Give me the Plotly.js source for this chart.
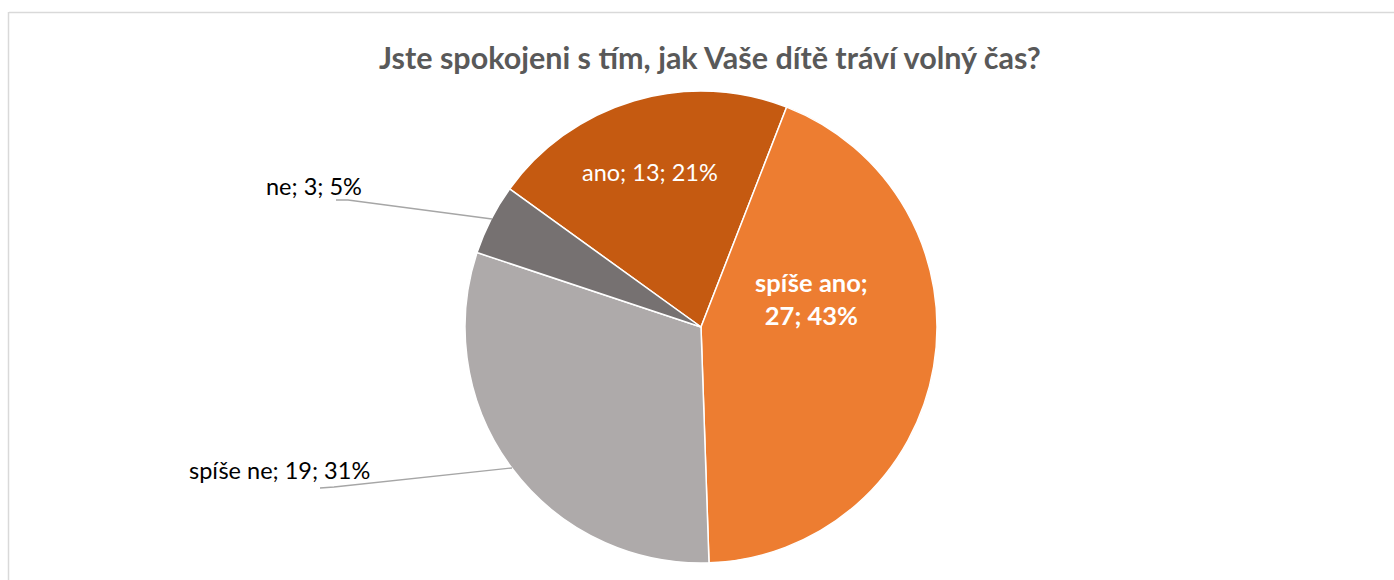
<!DOCTYPE html>
<html>
<head>
<meta charset="utf-8">
<script src="https://cdn.plot.ly/plotly-3.0.1.min.js"></script>
<style>
html,body{margin:0;padding:0;background:#fff;}
#chart{width:1394px;height:580px;}
</style>
</head>
<body>
<div id="chart"></div>
<script>
const categories = ["ano", "spíše ano", "spíše ne", "ne"];
const counts = [13, 27, 19, 3];
const percentLabels = ["21%", "43%", "31%", "5%"];
const colors = ["#C55A11", "#ED7D31", "#AEAAAA", "#767171"];
const chartTitle = "Jste spokojeni s tím, jak Vaše dítě tráví volný čas?";

const W = 1394, H = 580;
const FONT = "Lato, 'Open Sans', sans-serif";

const labelText = categories.map((c, i) => c + "; " + counts[i] + "; " + percentLabels[i]);

const px = (x) => x / W;
const py = (y) => 1 - y / H;

const trace = {
  type: "pie",
  labels: categories,
  values: counts,
  sort: false,
  direction: "clockwise",
  rotation: -54.2,
  marker: {colors: colors, line: {color: "#ffffff", width: 1.5}},
  textinfo: "none",
  hoverinfo: "label+value+percent",
  showlegend: false,
  domain: {x: [px(465), px(937)], y: [py(563), py(91)]}
};

const annotations = [
  {text: labelText[0], x: px(650), y: py(172), xref: "paper", yref: "paper", showarrow: false,
   font: {family: FONT, size: 23.5, color: "#ffffff"}, xanchor: "center", yanchor: "middle"},
  {text: "<b>" + categories[1] + ";<br>" + counts[1] + "; " + percentLabels[1] + "</b>", x: px(811), y: py(298),
   xref: "paper", yref: "paper", showarrow: false,
   font: {family: FONT, size: 25.5, color: "#ffffff"}, xanchor: "center", yanchor: "middle"},
  {text: labelText[3], x: px(314), y: py(186), xref: "paper", yref: "paper", showarrow: false,
   font: {family: FONT, size: 23.5, color: "#000"}, xanchor: "center", yanchor: "middle"},
  {text: labelText[2], x: px(279), y: py(470), xref: "paper", yref: "paper", showarrow: false,
   font: {family: FONT, size: 23.5, color: "#000"}, xanchor: "center", yanchor: "middle"}
];

const shapes = [
  {type: "line", xref: "paper", yref: "paper", x0: px(9), y0: py(12.5), x1: px(1400), y1: py(12.5), line: {color: "#D9D9D9", width: 1.5}},
  {type: "line", xref: "paper", yref: "paper", x0: px(8.5), y0: py(12), x1: px(8.5), y1: py(600), line: {color: "#D9D9D9", width: 1.5}},
  {type: "path", xref: "paper", yref: "paper",
   path: "M " + px(336) + "," + py(200) + " L " + px(348) + "," + py(200) + " L " + px(492) + "," + py(219),
   line: {color: "#A6A6A6", width: 1.3}},
  {type: "path", xref: "paper", yref: "paper",
   path: "M " + px(320) + "," + py(488) + " L " + px(334) + "," + py(487) + " L " + px(512) + "," + py(468),
   line: {color: "#A6A6A6", width: 1.3}}
];

const layout = {
  width: W, height: H,
  margin: {l: 0, r: 0, t: 0, b: 0},
  paper_bgcolor: "#ffffff",
  title: {text: "<b>" + chartTitle + "</b>", x: 710 / W, xanchor: "center", y: py(58), yanchor: "middle",
          font: {family: FONT, size: 30.5, color: "#595959"}},
  annotations: annotations,
  shapes: shapes
};

Plotly.newPlot("chart", [trace], layout, {displayModeBar: false, staticPlot: true});
</script>
</body>
</html>
